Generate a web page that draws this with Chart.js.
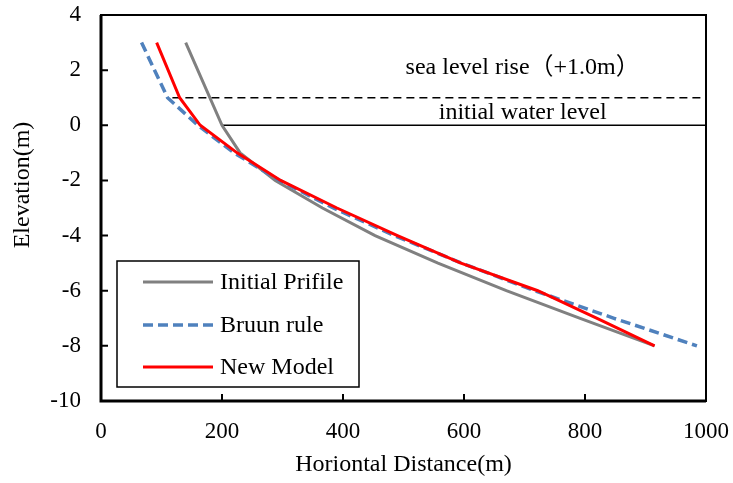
<!DOCTYPE html>
<html><head><meta charset="utf-8">
<script src="https://cdn.jsdelivr.net/npm/chart.js@4.4.0/dist/chart.umd.min.js"></script>
<style>html,body{margin:0;padding:0;background:#fff}</style>
</head><body>
<canvas id="c" width="733" height="483"></canvas>
<script>
// ---- data ----
const initialElev = [3, 0, -1, -2, -3, -4, -5, -6, -7, -8];
const initialDist = [140, 200, 230, 288, 366, 453, 557, 670, 792, 915];
const bruunElev = [3, 1, 0, -1, -2, -3, -4, -5, -6, -7, -8];
const bruunDist = [67, 110, 160, 220, 295, 384, 485, 596, 717, 848, 985];
const newElev = [3, 1, 0, -1, -2, -3, -4, -5, -6, -7, -8];
const newDist = [92, 130, 164, 225, 297, 390, 490, 595, 722, 820, 915];
const seaRiseElev = [1, 1];
const seaRiseDist = [118, 1000];
const waterElev = [0, 0];
const waterDist = [200, 1000];
const xTickValues = [0, 200, 400, 600, 800, 1000];
const yTickValues = [4, 2, 0, -2, -4, -6, -8, -10];
const seriesNames = ['Initial Prifile', 'Bruun rule', 'New Model'];
const seaRiseLabel = 'sea level rise（+1.0m）';
const waterLabel = 'initial water level';
const seaRiseLabelPos = [697, 2.1];
const waterLabelPos = [697, 0.45];
const xTitle = 'Horiontal Distance(m)';
const yTitle = 'Elevation(m)';

const FONT = "'Liberation Serif', 'Times New Roman', 'Noto Sans CJK SC', serif";
const pts = (xs, ys) => xs.map((x, i) => ({x: x, y: ys[i]}));

const framePlugin = {
  id: 'frame',
  afterDatasetsDraw(chart) {
    const {ctx, chartArea: a, scales: {x, y}} = chart;
    ctx.save();
    // annotation texts
    ctx.fillStyle = '#000';
    ctx.font = '24px ' + FONT;
    ctx.textAlign = 'center';
    ctx.textBaseline = 'middle';
    ctx.fillText(seaRiseLabel, x.getPixelForValue(seaRiseLabelPos[0]), y.getPixelForValue(seaRiseLabelPos[1]));
    ctx.fillText(waterLabel, x.getPixelForValue(waterLabelPos[0]), y.getPixelForValue(waterLabelPos[1]));
    // y axis title
    ctx.save();
    ctx.translate(23, 185);
    ctx.rotate(-Math.PI / 2);
    ctx.fillText(yTitle, 0, 0);
    ctx.restore();
    // frame
    ctx.strokeStyle = '#000';
    ctx.lineWidth = 2;
    ctx.strokeRect(a.left, a.top, a.right - a.left, a.bottom - a.top);
    ctx.lineWidth = 3;
    ctx.beginPath();
    ctx.moveTo(a.left, a.top); ctx.lineTo(a.left, a.bottom); ctx.lineTo(a.right, a.bottom);
    ctx.stroke();
    // inward ticks
    ctx.lineWidth = 2;
    ctx.beginPath();
    xTickValues.forEach(v => {
      const px = x.getPixelForValue(v);
      ctx.moveTo(px, a.bottom); ctx.lineTo(px, a.bottom - 7);
    });
    yTickValues.forEach(v => {
      const py = y.getPixelForValue(v);
      ctx.moveTo(a.left, py); ctx.lineTo(a.left + 7, py);
    });
    ctx.stroke();
    // legend
    const lx = 117, ly = 261, lw = 242, lh = 126;
    ctx.fillStyle = '#fff';
    ctx.fillRect(lx, ly, lw, lh);
    ctx.lineWidth = 1.5;
    ctx.strokeStyle = '#000';
    ctx.strokeRect(lx, ly, lw, lh);
    const rows = [282, 325, 367];
    [0, 1, 2].forEach((di, k) => {
      const ds = chart.data.datasets[di];
      ctx.beginPath();
      ctx.strokeStyle = ds.borderColor;
      ctx.lineWidth = ds.borderWidth;
      ctx.setLineDash(ds.borderDash || []);
      ctx.moveTo(143, rows[k]); ctx.lineTo(213, rows[k]);
      ctx.stroke();
      ctx.setLineDash([]);
      ctx.fillStyle = '#000';
      ctx.font = '24px ' + FONT;
      ctx.textAlign = 'left';
      ctx.textBaseline = 'middle';
      ctx.fillText(ds.label, 220, rows[k] + 1);
    });
    ctx.restore();
  }
};

new Chart(document.getElementById('c'), {
  type: 'scatter',
  data: {
    datasets: [
      {label: seriesNames[0], data: pts(initialDist, initialElev), showLine: true, borderColor: '#808080', borderWidth: 3, pointRadius: 0, order: 2},
      {label: seriesNames[1], data: pts(bruunDist, bruunElev), showLine: true, borderColor: '#4f81bd', borderWidth: 3.5, borderDash: [10, 5], pointRadius: 0, order: 1},
      {label: seriesNames[2], data: pts(newDist, newElev), showLine: true, borderColor: '#ff0000', borderWidth: 3, pointRadius: 0, order: 0},
      {label: 'rise', data: pts(seaRiseDist, seaRiseElev), showLine: true, borderColor: '#000', borderWidth: 1.5, borderDash: [8, 5], pointRadius: 0, order: 3},
      {label: 'water', data: pts(waterDist, waterElev), showLine: true, borderColor: '#000', borderWidth: 1.5, pointRadius: 0, order: 4}
    ]
  },
  options: {
    responsive: false,
    animation: false,
    devicePixelRatio: 1,
    layout: {padding: {top: 15, right: 27, left: 0, bottom: 0}},
    plugins: {legend: {display: false}, tooltip: {enabled: false}},
    scales: {
      x: {
        type: 'linear', min: 0, max: 1000,
        afterBuildTicks: s => { s.ticks = xTickValues.map(v => ({value: v})); },
        afterFit: s => { s.height = 82; s.paddingLeft = 0; s.paddingRight = 0; },
        grid: {display: false, drawTicks: false},
        border: {display: false},
        ticks: {font: {family: FONT, size: 23}, color: '#000', padding: 17, maxRotation: 0, callback: v => String(v)},
        title: {display: true, text: xTitle, font: {family: FONT, size: 24}, color: '#000', padding: {top: 0, bottom: 4}}
      },
      y: {
        type: 'linear', min: -10, max: 4,
        afterBuildTicks: s => { s.ticks = yTickValues.map(v => ({value: v})); },
        afterFit: s => { s.width = 101; s.paddingTop = 0; s.paddingBottom = 0; },
        grid: {display: false, drawTicks: false},
        border: {display: false},
        ticks: {font: {family: FONT, size: 23}, color: '#000', padding: 20, callback: v => String(v)},
        title: {display: false}
      }
    }
  },
  plugins: [framePlugin]
});
</script>
</body></html>
